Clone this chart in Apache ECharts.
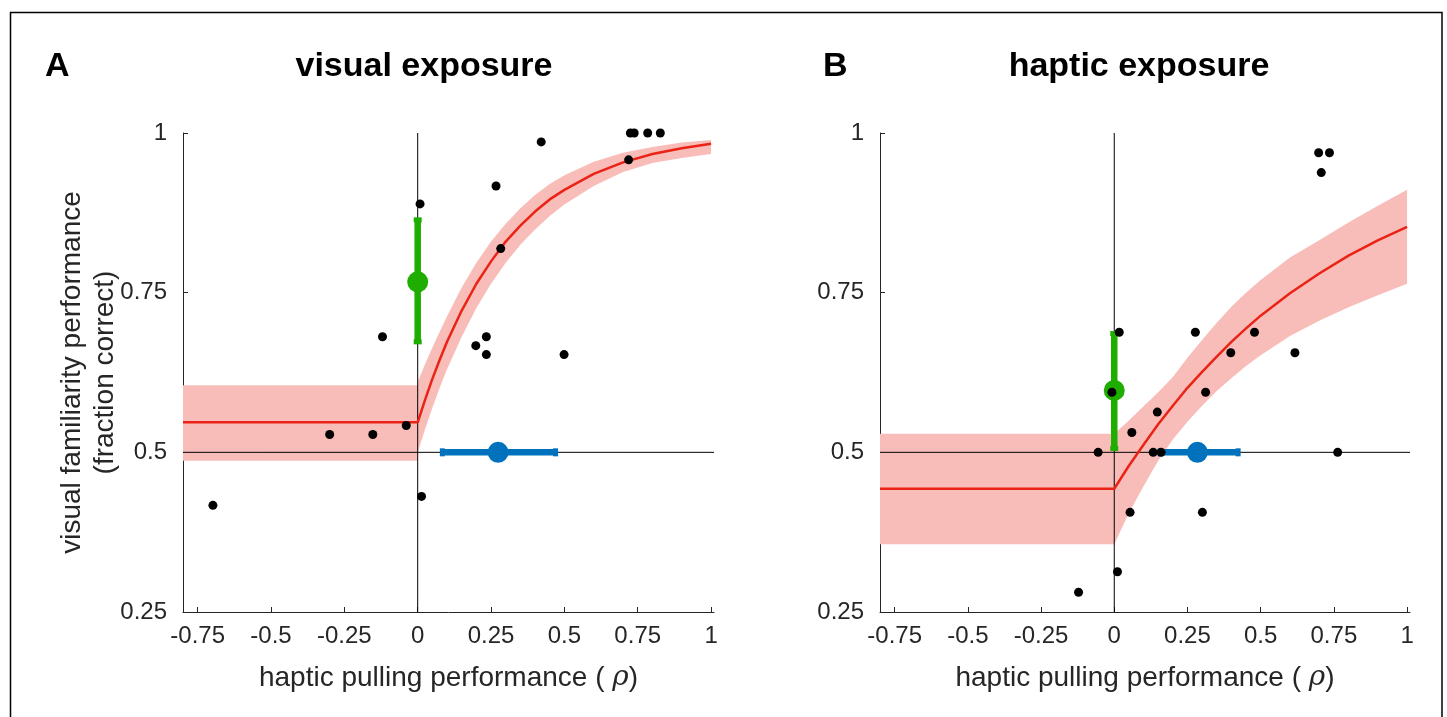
<!DOCTYPE html>
<html>
<head>
<meta charset="utf-8">
<script src="https://cdn.jsdelivr.net/npm/echarts@6/dist/echarts.min.js"></script>
<style>
html,body{margin:0;padding:0;background:#fff;}
#chart{width:1447px;height:717px;}
</style>
</head>
<body>
<div id="chart"></div>
<script>
// ---------- data ----------
const xTicks = [-0.75, -0.5, -0.25, 0, 0.25, 0.5, 0.75, 1];
const xMin = -0.8, xMax = 1.01;
const yMin = 0.25, yMax = 1, yStep = 0.25;
const refX = 0, refY = 0.5;

// Panel A: visual exposure
const A_dotsX = [-0.698, -0.300, -0.153, -0.120, -0.039, 0.008, 0.013, 0.198, 0.234, 0.234, 0.267, 0.283, 0.421, 0.499, 0.719, 0.725, 0.738, 0.784, 0.827];
const A_dotsY = [0.417, 0.528, 0.528, 0.681, 0.542, 0.889, 0.431, 0.667, 0.681, 0.653, 0.917, 0.819, 0.986, 0.653, 0.958, 1.0, 1.0, 1.0, 1.0];
const A_fitX  = [-0.8, 0, 0, 0.025, 0.05, 0.075, 0.1, 0.15, 0.2, 0.25, 0.3, 0.35, 0.4, 0.45, 0.5, 0.6, 0.7, 0.8, 0.9, 1.0];
const A_fitY  = [0.547, 0.547, 0.547, 0.582, 0.615, 0.645, 0.673, 0.722, 0.764, 0.799, 0.830, 0.855, 0.877, 0.896, 0.911, 0.936, 0.954, 0.967, 0.976, 0.983];
const A_bandHi = [0.605, 0.605, 0.610, 0.638, 0.664, 0.689, 0.713, 0.758, 0.797, 0.830, 0.858, 0.882, 0.903, 0.920, 0.934, 0.955, 0.969, 0.978, 0.985, 0.989];
const A_bandLo = [0.487, 0.487, 0.500, 0.536, 0.570, 0.601, 0.630, 0.681, 0.726, 0.764, 0.797, 0.825, 0.849, 0.870, 0.888, 0.917, 0.939, 0.953, 0.961, 0.967];
const A_green = {x: 0, y: 0.767, lo: 0.673, hi: 0.864};
const A_blue  = {x: 0.274, y: 0.5, lo: 0.084, hi: 0.470};

// Panel B: haptic exposure
const B_dotsX = [0.698, 0.735, 0.707, 0.017, 0.277, 0.479, 0.398, 0.617, -0.008, 0.312, 0.147, 0.060, -0.055, 0.133, 0.160, 0.763, 0.054, 0.301, 0.011, -0.122];
const B_dotsY = [0.969, 0.969, 0.938, 0.688, 0.688, 0.688, 0.656, 0.656, 0.594, 0.594, 0.563, 0.531, 0.5, 0.5, 0.5, 0.5, 0.406, 0.406, 0.313, 0.281];
const B_fitX  = [-0.8, 0, 0, 0.05, 0.1, 0.15, 0.2, 0.25, 0.3, 0.35, 0.4, 0.45, 0.5, 0.6, 0.7, 0.8, 0.9, 1.0];
const B_fitY  = [0.443, 0.443, 0.443, 0.479, 0.512, 0.544, 0.573, 0.601, 0.626, 0.650, 0.673, 0.694, 0.714, 0.749, 0.780, 0.808, 0.832, 0.853];
const B_bandHi = [0.529, 0.529, 0.529, 0.550, 0.572, 0.594, 0.618, 0.648, 0.676, 0.703, 0.728, 0.750, 0.770, 0.805, 0.832, 0.860, 0.886, 0.911];
const B_bandLo = [0.356, 0.356, 0.356, 0.405, 0.447, 0.487, 0.520, 0.548, 0.573, 0.596, 0.616, 0.635, 0.652, 0.682, 0.706, 0.727, 0.746, 0.764];
const B_green = {x: 0, y: 0.597, lo: 0.506, hi: 0.686};
const B_blue  = {x: 0.284, y: 0.5, lo: 0.157, hi: 0.423};

// ---------- style ----------
const FONT = '"Liberation Sans", Arial, Helvetica, sans-serif';
const AXC = '#262626';
const PINK = '#f8bdb8', RED = '#ea2316', GREEN = '#1fae00', BLUE = '#0072bd';

function zip(xs, ys){ return xs.map((x,i)=>[x, ys[i]]); }

function makeX(idx){
  return {
    type:'value', gridIndex: idx, min: xMin, max: xMax,
    axisLine:{show:true, onZero:false, lineStyle:{color:AXC, width:1}},
    axisTick:{show:true, inside:true, length:5, customValues: xTicks, lineStyle:{color:AXC}},
    axisLabel:{show:true, customValues: xTicks, margin:12, fontSize:24, color:AXC, fontFamily:FONT},
    splitLine:{show:false},
    name: 'haptic pulling performance ( {i|ρ})',
    nameLocation:'middle', nameGap: 52, nameMoveOverlap:false,
    nameTextStyle:{fontSize:28, color:AXC, fontFamily:FONT,
      rich:{i:{fontSize:28, fontStyle:'italic', color:AXC, fontFamily:'"DejaVu Serif", serif'}}}
  };
}
function makeY(idx, withName){
  const o = {
    type:'value', gridIndex: idx, min: yMin, max: yMax, interval: yStep,
    axisLine:{show:true, onZero:false, lineStyle:{color:AXC, width:1}},
    axisTick:{show:true, inside:true, length:5, lineStyle:{color:AXC}},
    axisLabel:{show:true, margin:16, fontSize:24, color:AXC, fontFamily:FONT},
    splitLine:{show:false}
  };
  if (withName){
    o.name = 'visual familiarity performance\n(fraction correct)';
    o.nameLocation = 'middle';
    o.nameGap = 61;
    o.nameMoveOverlap = false;
    o.nameTextStyle = {fontSize:28, lineHeight:33, color:AXC, fontFamily:FONT, align:'center'};
  }
  return o;
}

function bandSeries(idx, xs, lo, hi){
  return {
    type:'custom', xAxisIndex: idx, yAxisIndex: idx, z:1, silent:true,
    data:[[xs[0], lo[0]]],
    renderItem:function(params, api){
      const pts = [];
      for (let i=0;i<xs.length;i++) pts.push(api.coord([xs[i], hi[i]]));
      for (let i=xs.length-1;i>=0;i--) pts.push(api.coord([xs[i], lo[i]]));
      return {type:'polygon', shape:{points:pts}, style:{fill:PINK, stroke:null}};
    }
  };
}
function refSeries(idx){
  return [
    {type:'line', xAxisIndex:idx, yAxisIndex:idx, z:2, symbol:'none', silent:true,
     data:[[refX, yMin],[refX, yMax]], lineStyle:{color:'#000', width:1}},
    {type:'line', xAxisIndex:idx, yAxisIndex:idx, z:2, symbol:'none', silent:true,
     data:[[xMin, refY],[xMax, refY]], lineStyle:{color:'#000', width:1}}
  ];
}
function fitSeries(idx, xs, ys){
  return {type:'line', xAxisIndex:idx, yAxisIndex:idx, z:3, symbol:'none', silent:true,
    data: zip(xs, ys), lineStyle:{color:RED, width:2.5}};
}
function errSeries(idx, g, b){
  return [
    {type:'line', xAxisIndex:idx, yAxisIndex:idx, z:4, silent:true,
     data:[[g.x, g.lo],[g.x, g.hi]], symbol:'rect', symbolSize:[8,5], itemStyle:{color:GREEN, opacity:1},
     lineStyle:{color:GREEN, width:6.5}},
    {type:'scatter', xAxisIndex:idx, yAxisIndex:idx, z:4, silent:true,
     data:[[g.x, g.y]], symbolSize:21, itemStyle:{color:GREEN, opacity:1}},
    {type:'line', xAxisIndex:idx, yAxisIndex:idx, z:4, silent:true,
     data:[[b.lo, b.y],[b.hi, b.y]], symbol:'rect', symbolSize:[5,8], itemStyle:{color:BLUE, opacity:1},
     lineStyle:{color:BLUE, width:6.5}},
    {type:'scatter', xAxisIndex:idx, yAxisIndex:idx, z:4, silent:true,
     data:[[b.x, b.y]], symbolSize:21, itemStyle:{color:BLUE, opacity:1}}
  ];
}
function dotSeries(idx, xs, ys){
  return {type:'scatter', xAxisIndex:idx, yAxisIndex:idx, z:6, silent:true,
    data: zip(xs, ys), symbolSize:9, itemStyle:{color:'#000', opacity:1}};
}

const chart = echarts.init(document.getElementById('chart'), null, {renderer:'canvas'});
const titleStyle = {fontSize:34, fontWeight:'bold', color:'#000', fontFamily:FONT};
chart.setOption({
  animation:false,
  backgroundColor:'#fff',
  title:[
    {text:'A', left:40, top:45, textStyle:titleStyle},
    {text:'visual exposure', left:419, top:45, textAlign:'center', textStyle:titleStyle},
    {text:'B', left:818, top:45, textStyle:titleStyle},
    {text:'haptic exposure', left:1134, top:45, textAlign:'center', textStyle:titleStyle}
  ],
  graphic:[{type:'rect', shape:{x:10.5, y:12.5, width:1431.5, height:760},
            style:{fill:null, stroke:'#000', lineWidth:1.5}, silent:true}],
  grid:[
    {left:183, width:531, top:133, height:479},
    {left:880, width:530, top:133, height:479}
  ],
  xAxis:[makeX(0), makeX(1)],
  yAxis:[makeY(0, true), makeY(1, false)],
  series:[
    bandSeries(0, A_fitX, A_bandLo, A_bandHi),
    ...refSeries(0),
    fitSeries(0, A_fitX, A_fitY),
    ...errSeries(0, A_green, A_blue),
    dotSeries(0, A_dotsX, A_dotsY),
    bandSeries(1, B_fitX, B_bandLo, B_bandHi),
    ...refSeries(1),
    fitSeries(1, B_fitX, B_fitY),
    ...errSeries(1, B_green, B_blue),
    dotSeries(1, B_dotsX, B_dotsY)
  ]
});
</script>
</body>
</html>
